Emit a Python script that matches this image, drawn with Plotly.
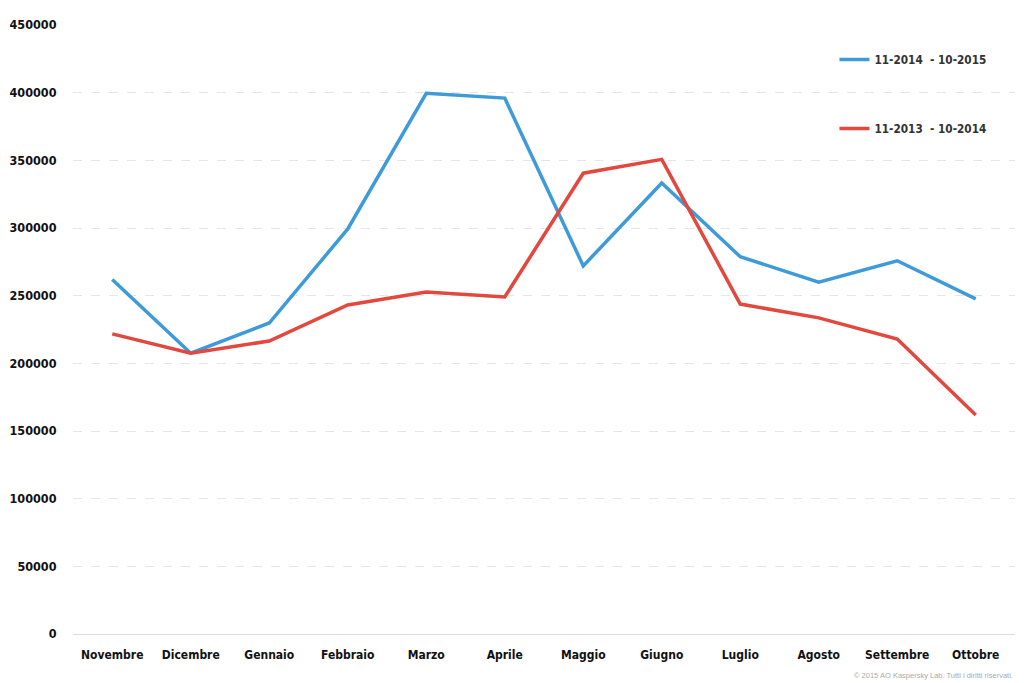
import plotly.graph_objects as go

# months on the x axis
months = ['Novembre', 'Dicembre', 'Gennaio', 'Febbraio', 'Marzo', 'Aprile',
          'Maggio', 'Giugno', 'Luglio', 'Agosto', 'Settembre', 'Ottobre']

# 11-2014 - 10-2015
series_2015 = [262000, 207500, 229800, 299300, 399500, 396000,
               272000, 333200, 278800, 260000, 275800, 247600]
# 11-2013 - 10-2014
series_2014 = [221800, 207500, 216500, 243100, 252700, 249000,
               340500, 350700, 243800, 233600, 218000, 161800]

y_ticks = [0, 50000, 100000, 150000, 200000, 250000, 300000, 350000, 400000, 450000]

BLUE = '#3d9bd9'
RED = '#e2483d'
FONT = 'Liberation Sans Narrow, DejaVu Sans Condensed, Arial Narrow, sans-serif'

fig = go.Figure()

fig.add_trace(go.Scatter(
    x=months, y=series_2015, mode='lines', name='11-2014  - 10-2015',
    line=dict(color=BLUE, width=3.5), legendgroup='a',
))
fig.add_trace(go.Scatter(
    x=months, y=series_2014, mode='lines', name='11-2013  - 10-2014',
    line=dict(color=RED, width=3.5), legendgroup='b',
))

# the page body adds an 8px offset, so margins are shifted to compensate
fig.update_layout(
    width=1024, height=683,
    margin=dict(l=65, r=17, t=17, b=57),
    plot_bgcolor='white',
    paper_bgcolor='white',
    font=dict(family=FONT, size=12, color='#111111'),
    showlegend=True,
    legend=dict(
        x=0.975, y=0.967, xanchor='right', yanchor='top',
        tracegroupgap=50, itemwidth=30,
        font=dict(family=FONT, size=11.7, color='#333333', weight='bold'),
        bgcolor='rgba(0,0,0,0)',
    ),
)

fig.update_xaxes(
    type='category', range=[-0.5, len(months) - 0.5],
    showgrid=False, showline=True, linecolor='#dddddd', linewidth=1,
    ticks='outside', ticklen=10, tickcolor='rgba(0,0,0,0)',
    tickfont=dict(family=FONT, size=12, weight='bold', color='#111111'),
)
fig.update_yaxes(
    range=[0, 450000], tickvals=y_ticks, tickformat='d', automargin=False,
    showgrid=True, gridcolor='#e6e6e6', griddash='dash', gridwidth=1,
    zeroline=True, zerolinecolor='#dddddd', zerolinewidth=1,
    ticks='outside', ticklen=13, tickcolor='rgba(0,0,0,0)',
    tickfont=dict(family=FONT, size=12.5, weight='bold', color='#111111'),
)

fig.add_annotation(
    text='© 2015 AO Kaspersky Lab. Tutti i diritti riservati.',
    xref='paper', yref='paper', x=1.0, y=-0.068, xanchor='right', yanchor='middle',
    showarrow=False, font=dict(family='Liberation Sans, Arial, sans-serif', size=7.5, color='#aaaaaa'),
)

fig.write_html('out.html')
